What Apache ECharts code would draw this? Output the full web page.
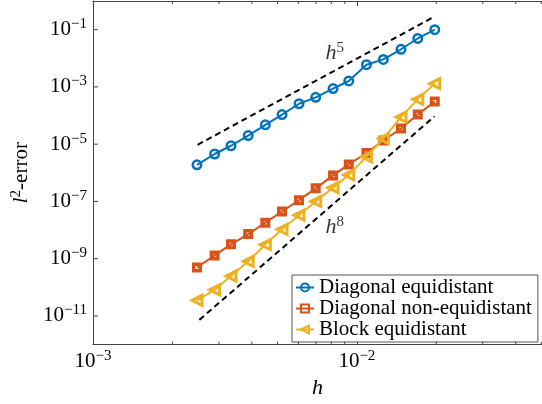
<!DOCTYPE html>
<html><head><meta charset="utf-8">
<script src="https://cdn.jsdelivr.net/npm/echarts@6/dist/echarts.min.js"></script>
<style>html,body{margin:0;padding:0;background:#fff}#c{width:542px;height:404px}</style>
</head><body><div id="c"></div>
<script>
// ---- data ----
const hValues = [0.002478, 0.002891, 0.003334, 0.003874, 0.004499, 0.005205, 0.006036, 0.006982, 0.008123, 0.009316, 0.01087, 0.01260, 0.01470, 0.01701, 0.01973];
const diagEqui = [1.90e-6, 4.54e-6, 8.80e-6, 1.99e-5, 4.73e-5, 1.08e-4, 2.58e-4, 4.31e-4, 8.77e-4, 1.61e-3, 5.97e-3, 9.14e-3, 2.06e-2, 4.91e-2, 1.00e-1];
const diagNonEqui = [4.94e-10, 1.30e-9, 3.18e-9, 7.23e-9, 1.81e-8, 4.44e-8, 1.11e-7, 2.86e-7, 8.11e-7, 1.96e-6, 4.91e-6, 1.34e-5, 3.50e-5, 1.08e-4, 3.07e-4];
const blockEqui = [3.53e-11, 8.22e-11, 2.48e-10, 8.12e-10, 3.10e-9, 1.06e-8, 3.32e-8, 1.00e-7, 3.03e-7, 8.44e-7, 3.64e-6, 1.57e-5, 8.89e-5, 3.68e-4, 1.30e-3];
const ref5H = [0.00249, 0.0197];
const ref5E = [9.52e-6, 0.286];
const ref8H = [0.00253, 0.0197];
const ref8E = [7.3e-12, 9.4e-5];
const seriesNames = ['Diagonal equidistant', 'Diagonal non-equidistant', 'Block equidistant'];
const xRange = [1e-3, 0.0503];
const yRange = [1e-12, 1];
const xMinorTicks = [0.002, 0.003, 0.004, 0.005, 0.006, 0.007, 0.008, 0.009, 0.02, 0.03, 0.04, 0.05];
const yTicks = [1e-11, 1e-9, 1e-7, 1e-5, 1e-3, 1e-1];
const slopeLabels = [{text: '5', h: 0.00825, e: 0.0150}, {text: '8', h: 0.00825, e: 1.25e-8}];

const SERIF = '"Liberation Serif", "DejaVu Serif", serif';
const AXC = '#444';
const rich = {
  b: {fontSize: 21, fontFamily: SERIF, color: '#000'},
  s: {fontSize: 15, fontFamily: SERIF, color: '#000', padding: [0, 0, 11, 0]},
  i: {fontSize: 22, fontFamily: SERIF, fontStyle: 'italic', color: '#000'}
};
function powLabel(v) {
  const e = Math.round(Math.log10(v));
  return '{b|10}{s|\u2212' + (-e) + '}';
}
const pairs = (xs, ys) => xs.map((x, i) => [x, ys[i]]);

const chart = echarts.init(document.getElementById('c'), null, {renderer: 'canvas'});
const option = {
  animation: false,
  backgroundColor: '#fff',
  grid: {left: 93, top: 1, width: 458, height: 349, containLabel: false},
  xAxis: [{
    type: 'log', logBase: 10, min: xRange[0], max: xRange[1], interval: 1,
    position: 'bottom',
    axisLine: {show: true, lineStyle: {color: AXC, width: 1}},
    axisTick: {show: true, inside: true, length: 5, lineStyle: {color: AXC}},
    splitLine: {show: false},
    axisLabel: {
      margin: 4, showMaxLabel: false, rich: rich,
      formatter: v => {
        const e = Math.log10(v);
        return Math.abs(e - Math.round(e)) < 1e-6 ? powLabel(v) : '';
      }
    },
    name: '{i|h}', nameLocation: 'middle', nameGap: 29,
    nameTextStyle: {rich: rich}
  }, {
    type: 'log', logBase: 10, min: xRange[0], max: xRange[1], interval: 1,
    position: 'top',
    axisLine: {show: true, lineStyle: {color: AXC, width: 1}},
    axisTick: {show: true, inside: true, length: 5, lineStyle: {color: AXC}},
    axisLabel: {show: false}, splitLine: {show: false}
  }],
  yAxis: [{
    type: 'log', logBase: 10, min: yRange[0], max: yRange[1], interval: 1,
    axisLine: {show: true, lineStyle: {color: AXC, width: 1}},
    axisTick: {show: false},
    splitLine: {show: false},
    axisLabel: {
      margin: 6, rich: rich,
      formatter: v => {
        const e = Math.round(Math.log10(v));
        return (Math.abs(e) % 2 === 1) ? powLabel(v) : '';
      }
    },
    name: '{i|l}{s|2}{b|-error}', nameLocation: 'middle', nameGap: 55, nameRotate: 90,
    nameTextStyle: {rich: rich}
  }],
  legend: {
    data: seriesNames,
    orient: 'vertical', left: 292, top: 275,
    padding: [2, 6, 2, 3], itemGap: 0, itemWidth: 18, itemHeight: 10,
    backgroundColor: '#fff', borderColor: '#555', borderWidth: 1, borderRadius: 0,
    textStyle: {fontSize: 21, fontFamily: SERIF, color: '#000', lineHeight: 20.3},
    selectedMode: false
  },
  series: [
    {
      name: 'h5ref', type: 'line', data: pairs(ref5H, ref5E), symbol: 'none', silent: true, z: 1,
      lineStyle: {color: '#000', width: 2, type: [6, 4]}
    },
    {
      name: 'h8ref', type: 'line', data: pairs(ref8H, ref8E), symbol: 'none', silent: true, z: 1,
      lineStyle: {color: '#000', width: 2, type: [6, 4]}
    },
    {
      name: seriesNames[0], type: 'line', data: pairs(hValues, diagEqui),
      symbol: 'circle', symbolSize: 8.5, showAllSymbol: true, z: 3,
      itemStyle: {color: 'rgba(255,255,255,0)', borderColor: '#0072BD', borderWidth: 2.5},
      lineStyle: {color: '#0072BD', width: 2}
    },
    {
      name: seriesNames[1], type: 'line', data: pairs(hValues, diagNonEqui),
      symbol: 'rect', symbolSize: 6.5, showAllSymbol: true, z: 3,
      itemStyle: {color: 'rgba(255,255,255,0)', borderColor: '#D95319', borderWidth: 3.5},
      lineStyle: {color: '#D95319', width: 2}
    },
    {
      name: seriesNames[2], type: 'line', data: pairs(hValues, blockEqui),
      symbol: 'triangle', symbolRotate: 90, symbolSize: 10, showAllSymbol: true, z: 4,
      itemStyle: {color: 'rgba(255,255,255,0)', borderColor: '#EDB120', borderWidth: 3},
      lineStyle: {color: '#EDB120', width: 2}
    },
    {
      name: 'slopes', type: 'scatter', silent: true, z: 5,
      data: slopeLabels.map(d => ({value: [d.h, d.e], txt: d.text})),
      symbolSize: 1, itemStyle: {color: 'rgba(0,0,0,0)'},
      label: {
        show: true, position: 'inside', rich: rich,
        formatter: p => '{i|h}{s|' + p.data.txt + '}'
      }
    },
    {
      name: 'xminor', type: 'custom', silent: true, z: 6,
      data: xMinorTicks.map(v => [v, yRange[0]]),
      renderItem: (params, api) => {
        const v = api.value(0);
        const b = api.coord([v, yRange[0]]);
        const t = api.coord([v, yRange[1]]);
        return {type: 'group', children: [
          {type: 'line', shape: {x1: b[0], y1: b[1], x2: b[0], y2: b[1] - 3}, style: {stroke: AXC, lineWidth: 1}},
          {type: 'line', shape: {x1: t[0], y1: t[1], x2: t[0], y2: t[1] + 3}, style: {stroke: AXC, lineWidth: 1}}
        ]};
      }
    },
    {
      name: 'yticks', type: 'custom', silent: true, z: 6,
      data: yTicks.map(v => [xRange[0], v]),
      renderItem: (params, api) => {
        const p = api.coord([xRange[0], api.value(1)]);
        return {type: 'line', shape: {x1: p[0], y1: p[1], x2: p[0] + 5, y2: p[1]}, style: {stroke: AXC, lineWidth: 1}};
      }
    }
  ]
};
chart.setOption(option);
</script>
</body></html>
